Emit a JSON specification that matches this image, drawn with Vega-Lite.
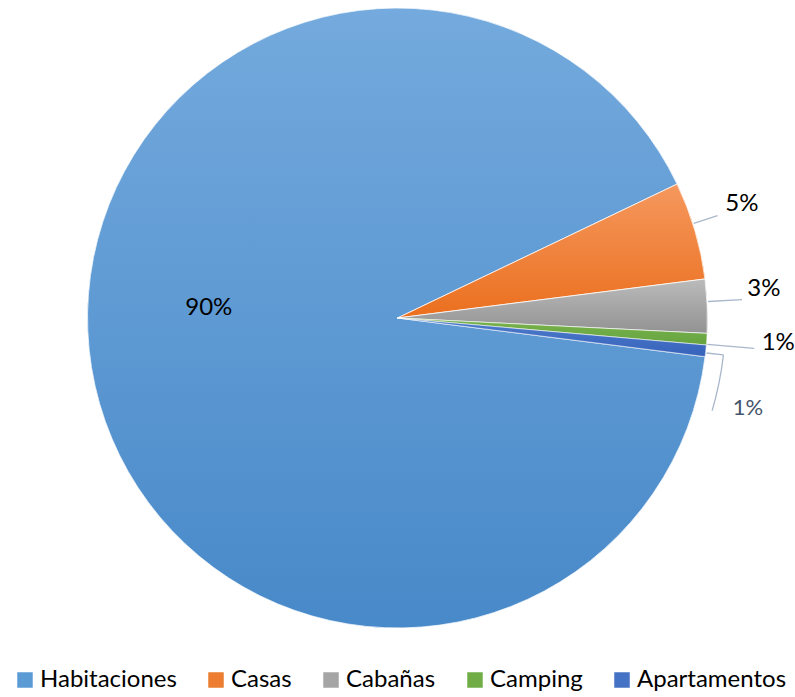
{
  "$schema": "https://vega.github.io/schema/vega-lite/v6.json",
  "width": 795,
  "height": 636,
  "padding": 0,
  "autosize": {"type": "pad"},
  "background": "white",
  "config": {"view": {"stroke": null}, "font": "Lato"},
  "data": {
    "values": [
      {"tipo": "Habitaciones", "valor": 90.9, "orden": 1, "etiqueta": "90%"},
      {"tipo": "Casas", "valor": 5.1, "orden": 2, "etiqueta": "5%"},
      {"tipo": "Cabañas", "valor": 2.8, "orden": 3, "etiqueta": "3%"},
      {"tipo": "Camping", "valor": 0.6, "orden": 4, "etiqueta": "1%"},
      {"tipo": "Apartamentos", "valor": 0.6, "orden": 5, "etiqueta": "1%"}
    ]
  },
  "transform": [
    {"stack": "valor", "groupby": [], "sort": [{"field": "orden", "order": "ascending"}], "as": ["v0", "v1"]}
  ],
  "layer": [
    {
      "mark": {"type": "arc", "outerRadius": 310},
      "encoding": {
        "theta": {"field": "v0", "type": "quantitative", "scale": {"domain": [0, 100], "range": [1.696, 7.979]}},
        "theta2": {"field": "v1"},
        "color": {
          "field": "tipo",
          "type": "nominal",
          "sort": ["Habitaciones", "Casas", "Cabañas", "Camping", "Apartamentos"],
          "scale": {
            "domain": ["Habitaciones", "Casas", "Cabañas", "Camping", "Apartamentos"],
            "range": ["#5B9BD5", "#ED7D31", "#A5A5A5", "#70AD47", "#4472C4"]
          },
          "legend": {
            "orient": "none",
            "legendX": 13,
            "legendY": 668,
            "direction": "horizontal",
            "title": null,
            "symbolType": "square",
            "symbolSize": 240,
            "symbolStrokeWidth": 0,
            "labelFontSize": 24,
            "labelFont": "Lato",
            "labelColor": "#000000",
            "labelOffset": 3,
            "columnPadding": 27,
            "labelLimit": 300
          }
        }
      }
    },
    {
      "transform": [{"filter": "datum.tipo === 'Habitaciones'"}],
      "mark": {"type": "arc", "outerRadius": 310, "stroke": "white", "strokeWidth": 0.8,
        "color": {"gradient": "linear", "x1": 0, "y1": 0, "x2": 0, "y2": 1, "stops": [{"offset": 0, "color": "#74AADD"}, {"offset": 1, "color": "#4889C9"}]}},
      "encoding": {"theta": {"field": "v0", "type": "quantitative"}, "theta2": {"field": "v1"}}
    },
    {
      "transform": [{"filter": "datum.tipo === 'Casas'"}],
      "mark": {"type": "arc", "outerRadius": 310, "stroke": "white", "strokeWidth": 0.8,
        "color": {"gradient": "linear", "x1": 0, "y1": 0, "x2": 0, "y2": 1, "stops": [{"offset": 0, "color": "#F5985E"}, {"offset": 1, "color": "#EB6F1E"}]}},
      "encoding": {"theta": {"field": "v0", "type": "quantitative"}, "theta2": {"field": "v1"}}
    },
    {
      "transform": [{"filter": "datum.tipo === 'Cabañas'"}],
      "mark": {"type": "arc", "outerRadius": 310, "stroke": "white", "strokeWidth": 0.8,
        "color": {"gradient": "linear", "x1": 0, "y1": 0, "x2": 0, "y2": 1, "stops": [{"offset": 0, "color": "#BBBBBB"}, {"offset": 1, "color": "#929292"}]}},
      "encoding": {"theta": {"field": "v0", "type": "quantitative"}, "theta2": {"field": "v1"}}
    },
    {
      "transform": [{"filter": "datum.tipo === 'Camping'"}],
      "mark": {"type": "arc", "outerRadius": 310, "stroke": "white", "strokeWidth": 0.6,
        "color": {"gradient": "linear", "x1": 0, "y1": 0, "x2": 0, "y2": 1, "stops": [{"offset": 0, "color": "#78B24D"}, {"offset": 1, "color": "#67A43F"}]}},
      "encoding": {"theta": {"field": "v0", "type": "quantitative"}, "theta2": {"field": "v1"}}
    },
    {
      "transform": [{"filter": "datum.tipo === 'Apartamentos'"}],
      "mark": {"type": "arc", "outerRadius": 310, "stroke": "white", "strokeWidth": 0.6,
        "color": {"gradient": "linear", "x1": 0, "y1": 0, "x2": 0, "y2": 1, "stops": [{"offset": 0, "color": "#4E7CCB"}, {"offset": 1, "color": "#3763BC"}]}},
      "encoding": {"theta": {"field": "v0", "type": "quantitative"}, "theta2": {"field": "v1"}}
    },
    {
      "transform": [{"filter": "datum.tipo === 'Casas'"}],
      "mark": {"type": "arc", "radius": 336, "radius2": 311, "thetaOffset": 0.1372, "theta2Offset": 0.1372, "stroke": "#A9B7CB", "strokeWidth": 1.3, "fill": null},
      "encoding": {"theta": {"field": "v0", "type": "quantitative"}, "theta2": {"field": "v0"}}
    },
    {
      "transform": [{"filter": "datum.tipo === 'Cabañas'"}],
      "mark": {"type": "arc", "radius": 345, "radius2": 311, "thetaOffset": 0.0733, "theta2Offset": 0.0733, "stroke": "#A9B7CB", "strokeWidth": 1.3, "fill": null},
      "encoding": {"theta": {"field": "v0", "type": "quantitative"}, "theta2": {"field": "v0"}}
    },
    {
      "transform": [{"filter": "datum.tipo === 'Camping'"}],
      "mark": {"type": "arc", "radius": 358, "radius2": 311, "thetaOffset": 0.0353, "theta2Offset": 0.0353, "stroke": "#A9B7CB", "strokeWidth": 1.3, "fill": null},
      "encoding": {"theta": {"field": "v0", "type": "quantitative"}, "theta2": {"field": "v0"}}
    },
    {
      "transform": [{"filter": "datum.tipo === 'Apartamentos'"}],
      "mark": {"type": "arc", "radius": 328, "radius2": 311, "thetaOffset": 0.0255, "theta2Offset": 0.0255, "stroke": "#A9B7CB", "strokeWidth": 1.3, "fill": null},
      "encoding": {"theta": {"field": "v0", "type": "quantitative"}, "theta2": {"field": "v0"}}
    },
    {
      "transform": [{"filter": "datum.tipo === 'Apartamentos'"}],
      "mark": {"type": "arc", "radius": 328, "radius2": 328, "thetaOffset": 0.0255, "theta2Offset": 0.1990, "stroke": "#A9B7CB", "strokeWidth": 1.3, "fill": null},
      "encoding": {"theta": {"field": "v0", "type": "quantitative"}, "theta2": {"field": "v0"}}
    },
    {
      "transform": [{"filter": "datum.tipo === 'Habitaciones'"}],
      "mark": {"type": "text", "radius": 189, "thetaOffset": 3.068, "fontSize": 24, "font": "Lato", "color": "#000000", "align": "center", "baseline": "middle"},
      "encoding": {"theta": {"field": "v0", "type": "quantitative"}, "text": {"field": "etiqueta"}}
    },
    {
      "transform": [{"filter": "datum.tipo === 'Casas'"}],
      "mark": {"type": "text", "radius": 347, "thetaOffset": 0.1117, "fontSize": 24, "font": "Lato", "color": "#000000", "align": "left", "baseline": "middle"},
      "encoding": {"theta": {"field": "v0", "type": "quantitative"}, "text": {"field": "etiqueta"}}
    },
    {
      "transform": [{"filter": "datum.tipo === 'Cabañas'"}],
      "mark": {"type": "text", "radius": 351, "thetaOffset": 0.0429, "fontSize": 24, "font": "Lato", "color": "#000000", "align": "left", "baseline": "middle"},
      "encoding": {"theta": {"field": "v0", "type": "quantitative"}, "text": {"field": "etiqueta"}}
    },
    {
      "transform": [{"filter": "datum.tipo === 'Camping'"}],
      "mark": {"type": "text", "radius": 365, "thetaOffset": 0.0183, "fontSize": 24, "font": "Lato", "color": "#000000", "align": "left", "baseline": "middle"},
      "encoding": {"theta": {"field": "v0", "type": "quantitative"}, "text": {"field": "etiqueta"}}
    },
    {
      "transform": [{"filter": "datum.tipo === 'Apartamentos'"}],
      "mark": {"type": "text", "radius": 347, "thetaOffset": 0.1745, "fontSize": 22, "font": "Lato", "color": "#44546A", "align": "left", "baseline": "middle"},
      "encoding": {"theta": {"field": "v0", "type": "quantitative"}, "text": {"field": "etiqueta"}}
    }
  ]
}
